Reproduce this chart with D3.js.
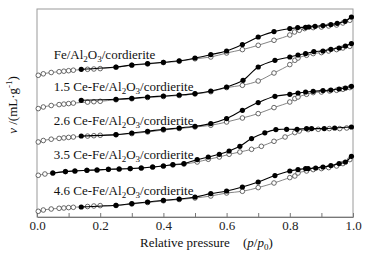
<!DOCTYPE html>
<html>
<head>
<meta charset="utf-8">
<script src="https://cdn.jsdelivr.net/npm/d3@7"></script>
<style>
  body { margin: 0; background: #fff; }
  svg { display: block; }
  svg text { font-family: "Liberation Serif", "DejaVu Serif", serif; }
</style>
</head>
<body>
<svg id="chart" width="383" height="254"></svg>
<script>
const serif = "'Liberation Serif', 'DejaVu Serif', serif";

// sample labels, top to bottom
const sampleNames = ["Fe", "1.5 Ce-Fe", "2.6 Ce-Fe", "3.5 Ce-Fe", "4.6 Ce-Fe"];
const labelValues = [158.5, 126, 92.5, 58, 22]; // y position of each label, same units as curves
const xTicks = [0, 0.1, 0.2, 0.3, 0.4, 0.5, 0.6, 0.7, 0.8, 0.9, 1.0];

// [p/p0, v] (curves are offset vertically, arbitrary units)
const s1Ads = [[0.004,141.7],[0.02,143.2],[0.045,144.5],[0.07,145.3],[0.085,145.8],[0.10,146.3],[0.115,146.8],[0.16,147.7],[0.18,148.0],[0.20,148.4],[0.25,149.7],[0.30,151.7],[0.35,153.0],[0.40,154.4],[0.45,155.7],[0.50,158.2],[0.55,160.0],[0.60,164.0],[0.65,167.4],[0.70,171.7],[0.75,176.7],[0.80,182.0],[0.815,185.0],[0.83,186.7],[0.847,188.4],[0.874,189.4],[0.90,190.0],[0.923,191.0],[0.948,192.0],[0.968,194.0],[0.99,196.7]];
const s1Des = [[0.14,147.7],[0.25,150.0],[0.30,152.0],[0.35,153.4],[0.40,154.7],[0.45,156.2],[0.50,159.0],[0.55,162.4],[0.60,166.0],[0.65,172.4],[0.70,180.0],[0.75,185.4],[0.80,188.4],[0.825,189.4],[0.85,189.7],[0.86,190.0],[0.88,190.7],[0.905,191.4],[0.93,192.4],[0.95,193.7],[0.975,195.7],[0.995,200.0]];

const s2Ads = [[0.004,108.4],[0.02,110.0],[0.045,111.5],[0.07,112.4],[0.085,112.9],[0.10,113.4],[0.115,113.9],[0.16,114.9],[0.18,115.3],[0.20,115.7],[0.25,117.2],[0.30,118.2],[0.35,119.5],[0.40,120.5],[0.45,121.5],[0.50,123.0],[0.55,125.3],[0.60,129.4],[0.65,131.7],[0.70,136.0],[0.75,144.0],[0.80,152.4],[0.816,156.7],[0.826,159.0],[0.853,161.7],[0.874,163.4],[0.90,164.4],[0.923,166.0],[0.948,167.4],[0.968,169.0],[0.99,170.7]];
const s2Des = [[0.14,116.7],[0.25,117.7],[0.30,118.7],[0.35,120.0],[0.40,121.0],[0.45,122.0],[0.50,123.4],[0.55,126.0],[0.60,130.0],[0.652,136.7],[0.70,150.0],[0.753,156.7],[0.80,160.0],[0.826,162.0],[0.85,163.4],[0.876,165.4],[0.905,166.0],[0.93,167.7],[0.956,169.0],[0.976,171.0],[0.995,173.4]];

const s3Ads = [[0.004,75.0],[0.02,76.5],[0.045,77.8],[0.07,78.6],[0.085,79.1],[0.10,79.6],[0.115,80.0],[0.16,80.9],[0.18,81.3],[0.20,81.7],[0.25,82.2],[0.30,83.4],[0.35,85.0],[0.40,87.0],[0.45,88.5],[0.50,90.0],[0.55,91.7],[0.60,95.0],[0.65,99.0],[0.70,103.4],[0.75,109.4],[0.80,115.0],[0.816,118.4],[0.826,120.0],[0.853,122.7],[0.874,124.4],[0.90,125.0],[0.926,126.0],[0.948,126.7],[0.968,127.7],[0.99,129.4]];
const s3Des = [[0.14,81.0],[0.25,82.4],[0.30,84.0],[0.35,85.7],[0.40,87.7],[0.45,89.0],[0.50,90.7],[0.55,93.4],[0.60,98.4],[0.65,106.7],[0.70,114.4],[0.753,120.7],[0.80,122.7],[0.826,124.0],[0.85,125.0],[0.874,125.7],[0.905,126.4],[0.93,127.0],[0.956,128.0],[0.976,129.0],[0.995,130.7]];

const s4Ads = [[0.004,41.7],[0.025,43.0],[0.05,44.0],[0.09,45.4],[0.12,46.0],[0.158,46.7],[0.19,47.0],[0.226,47.7],[0.26,48.0],[0.295,48.4],[0.33,49.0],[0.366,50.0],[0.40,51.0],[0.43,52.0],[0.465,52.9],[0.507,55.0],[0.542,57.7],[0.577,60.0],[0.608,62.7],[0.642,65.0],[0.679,67.7],[0.71,70.7],[0.75,75.7],[0.785,80.0],[0.816,84.4],[0.83,86.0],[0.858,87.4],[0.89,87.7],[0.925,88.4],[0.958,88.4],[0.98,89.0]];
const s4Des = [[0.05,44.0],[0.09,45.4],[0.12,46.0],[0.158,46.7],[0.19,47.0],[0.226,47.7],[0.26,48.0],[0.295,48.4],[0.33,49.0],[0.366,50.0],[0.40,51.0],[0.43,52.4],[0.465,53.4],[0.507,57.4],[0.542,60.0],[0.577,62.7],[0.608,66.0],[0.642,70.7],[0.679,78.4],[0.721,84.2],[0.756,87.4],[0.79,87.7],[0.823,87.7],[0.853,88.4],[0.869,88.4],[0.909,88.4],[0.942,89.0],[0.995,90.0]];

const s5Ads = [[0.004,5.7],[0.02,7.0],[0.045,8.0],[0.07,8.7],[0.085,9.0],[0.10,9.4],[0.115,9.7],[0.16,10.5],[0.18,11.0],[0.20,11.4],[0.25,11.5],[0.30,13.0],[0.35,14.5],[0.40,16.2],[0.45,17.5],[0.50,19.0],[0.55,21.0],[0.60,24.0],[0.65,25.7],[0.70,29.4],[0.75,34.0],[0.80,39.4],[0.816,41.0],[0.826,44.0],[0.853,46.0],[0.874,47.4],[0.90,48.4],[0.923,49.4],[0.948,51.0],[0.968,53.4],[0.99,57.4]];
const s5Des = [[0.14,10.0],[0.25,11.7],[0.30,13.4],[0.35,15.0],[0.40,16.7],[0.45,18.0],[0.50,20.0],[0.55,23.4],[0.60,26.0],[0.65,30.0],[0.70,35.0],[0.753,41.4],[0.80,46.0],[0.826,47.4],[0.85,48.4],[0.858,48.4],[0.882,49.0],[0.905,50.0],[0.93,51.4],[0.956,53.4],[0.976,55.0],[0.995,60.7]];

const allAds = [s1Ads, s2Ads, s3Ads, s4Ads, s5Ads];
const allDes = [s1Des, s2Des, s3Des, s4Des, s5Des];

const margin = { top: 9, right: 30, bottom: 37, left: 37 },
  width = 383 - margin.left - margin.right,
  height = 254 - margin.top - margin.bottom;

const svg = d3.select("#chart")
  .append("g")
  .attr("transform", `translate(${margin.left},${margin.top})`);

const x = d3.scaleLinear().domain([0, 1]).range([0, width]);
const y = d3.scaleLinear().domain([0, 208]).range([height, 0]);

// frame
svg.append("rect")
  .attr("width", width)
  .attr("height", height)
  .attr("fill", "none")
  .attr("stroke", "#9a9a9a")
  .attr("stroke-width", 1);

// x axis, ticks pointing inwards
const xAxis = d3.axisBottom(x)
  .tickValues(xTicks)
  .tickSizeInner(-4)
  .tickSizeOuter(0)
  .tickPadding(4)
  .tickFormat((d, i) => i % 2 === 0 ? d.toFixed(1) : "");

const gx = svg.append("g")
  .attr("transform", `translate(0,${height})`)
  .call(xAxis)
  .attr("font-family", serif)
  .attr("font-size", 13);
gx.select(".domain").attr("stroke", "#777");
gx.selectAll(".tick line").attr("stroke", "#777");
gx.selectAll("text").attr("fill", "#222");

const line = d3.line()
  .x(d => x(d[0]))
  .y(d => y(d[1]))
  .curve(d3.curveCatmullRom);

allAds.forEach((ads, i) => {
  const des = allDes[i];
  const g = svg.append("g").attr("class", "series" + i);

  g.append("path")
    .datum(ads)
    .attr("fill", "none")
    .attr("stroke", "#666")
    .attr("stroke-width", 0.8)
    .attr("d", line);

  g.selectAll(".ads")
    .data(ads)
    .join("circle")
    .attr("class", "ads")
    .attr("cx", d => x(d[0]))
    .attr("cy", d => y(d[1]))
    .attr("r", 2.3)
    .attr("fill", "#fff")
    .attr("stroke", "#444")
    .attr("stroke-width", 0.8);

  g.append("path")
    .datum(des)
    .attr("fill", "none")
    .attr("stroke", "#000")
    .attr("stroke-width", 1.1)
    .attr("d", line);

  g.selectAll(".des")
    .data(des)
    .join("circle")
    .attr("class", "des")
    .attr("cx", d => x(d[0]))
    .attr("cy", d => y(d[1]))
    .attr("r", 2.6)
    .attr("fill", "#000");
});

// sample labels with subscripts
sampleNames.forEach((name, i) => {
  const t = svg.append("text")
    .attr("x", x(0.053))
    .attr("y", y(labelValues[i]))
    .attr("font-family", serif)
    .attr("font-size", 13)
    .attr("fill", "#111");
  t.append("tspan").text(name + "/Al");
  t.append("tspan").attr("font-size", 9).attr("dy", 3).text("2");
  t.append("tspan").attr("dy", -3).text("O");
  t.append("tspan").attr("font-size", 9).attr("dy", 3).text("3");
  t.append("tspan").attr("dy", -3).text("/cordierite");
});

// y label
const yl = d3.select("#chart").append("text")
  .attr("transform", "translate(17,105) rotate(-90)")
  .attr("text-anchor", "middle")
  .attr("font-family", serif)
  .attr("font-size", 13)
  .attr("fill", "#111");
yl.append("tspan").attr("font-style", "italic").text("v");
yl.append("tspan").text(" /(mL·g");
yl.append("tspan").attr("font-size", 9).attr("dy", -5).text("-1");
yl.append("tspan").attr("dy", 5).text(")");

// x label
const xl = d3.select("#chart").append("text")
  .attr("x", 140)
  .attr("y", 247)
  .attr("font-family", serif)
  .attr("font-size", 13)
  .attr("fill", "#111");
xl.append("tspan").text("Relative pressure");
xl.append("tspan").attr("x", 243).text("(");
xl.append("tspan").attr("font-style", "italic").text("p");
xl.append("tspan").text("/");
xl.append("tspan").attr("font-style", "italic").text("p");
xl.append("tspan").attr("font-size", 9).attr("dy", 3).text("0");
xl.append("tspan").attr("dy", -3).text(")");
</script>
</body>
</html>
